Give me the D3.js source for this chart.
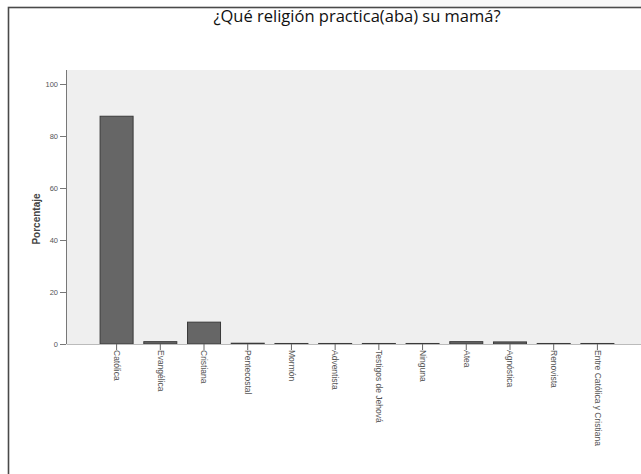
<!DOCTYPE html>
<html>
<head>
<meta charset="utf-8">
<script src="https://cdn.jsdelivr.net/npm/d3@7"></script>
<style>
  body { margin: 0; background: #fff; }
  svg { display: block; }
</style>
</head>
<body>
<div id="chart"></div>
<script>
// Chart data
var categories = ["Católica", "Evangélica", "Cristiana", "Pentecostal", "Mormón", "Adventista",
                  "Testigos de Jehová", "Ninguna", "Atea", "Agnóstica", "Renovista",
                  "Entre Católica y Cristiana"];
var percentages = [87.6, 0.9, 8.4, 0.3, 0.2, 0.2, 0.2, 0.2, 0.9, 0.8, 0.2, 0.2];
var yTicks = [0, 20, 40, 60, 80, 100];
var title = "¿Qué religión practica(aba) su mamá?";

var width = 641, height = 474,
    plot = {"left": 66, "right": 648, "top": 70, "bottom": 344};

var svg = d3.select("#chart")
  .append("svg")
    .attr("width", width)
    .attr("height", height);

// faint strip above the frame at the top right
svg.append("rect")
  .attr("x", 420).attr("y", 0).attr("width", width - 420).attr("height", 7)
  .attr("fill", "#f7f7f7");

// outer frame (right and bottom edges fall outside the picture)
svg.append("rect")
  .attr("x", 8.5).attr("y", 7.5)
  .attr("width", width + 20).attr("height", height + 20)
  .attr("fill", "#fff")
  .attr("stroke", "#4a4a4a")
  .attr("stroke-width", 1.6);

svg.append("text")
  .attr("x", 357)
  .attr("y", 22)
  .attr("text-anchor", "middle")
  .attr("font-family", "'Open Sans', sans-serif")
  .attr("font-size", "16.5px")
  .attr("fill", "#111")
  .text(title);

var x = d3.scaleBand()
  .domain(categories)
  .range([plot.left, plot.right])
  .paddingInner(0.245)
  .paddingOuter(0.78);

var y = d3.scaleLinear()
  .domain([0, 105])
  .range([plot.bottom, plot.bottom - 105 * 2.6]);

// plot background
svg.append("rect")
  .attr("x", plot.left)
  .attr("y", plot.top)
  .attr("width", plot.right - plot.left)
  .attr("height", plot.bottom - plot.top)
  .attr("fill", "#efefef");

svg.append("g")
  .selectAll("rect")
  .data(percentages)
  .enter()
  .append("rect")
    .attr("x", function(d, i) { return x(categories[i]); })
    .attr("y", function(d) { return y(d); })
    .attr("width", x.bandwidth())
    .attr("height", function(d) { return y(0) - y(d); })
    .attr("fill", "#666")
    .attr("stroke", "#3a3a3a")
    .attr("stroke-width", 1);

// y axis
var yAxis = svg.append("g")
  .attr("transform", "translate(" + plot.left + ",0)")
  .call(d3.axisLeft(y).tickValues(yTicks).tickSize(6).tickPadding(2));
yAxis.select(".domain")
  .attr("d", "M0.5," + plot.top + "V" + plot.bottom)
  .attr("stroke", "#777");
yAxis.selectAll(".tick line").attr("stroke", "#777");
yAxis.selectAll(".tick text")
  .attr("font-family", "'Liberation Sans', Arial, sans-serif")
  .attr("font-size", "7.5px")
  .attr("fill", "#555");

// x axis
var xAxis = svg.append("g")
  .attr("transform", "translate(0," + plot.bottom + ")")
  .call(d3.axisBottom(x).tickSize(6).tickSizeOuter(0));
xAxis.select(".domain").attr("stroke", "#bbb");
xAxis.selectAll(".tick line").attr("stroke", "#666");
xAxis.selectAll(".tick text")
  .attr("font-family", "'Liberation Sans', Arial, sans-serif")
  .attr("font-size", "8.5px")
  .attr("fill", "#555")
  .attr("text-anchor", "start")
  .attr("dy", "0.32em")
  .attr("transform", "translate(0,-2) rotate(90)")
  .attr("x", 8)
  .attr("y", 0);

svg.append("text")
  .attr("transform", "translate(40," + ((plot.top + plot.bottom) / 2 + 12) + ") rotate(-90)")
  .attr("text-anchor", "middle")
  .attr("font-family", "'Liberation Sans', Arial, sans-serif")
  .attr("font-size", "10px")
  .attr("font-weight", "bold")
  .attr("fill", "#444")
  .text("Porcentaje");
</script>
</body>
</html>
